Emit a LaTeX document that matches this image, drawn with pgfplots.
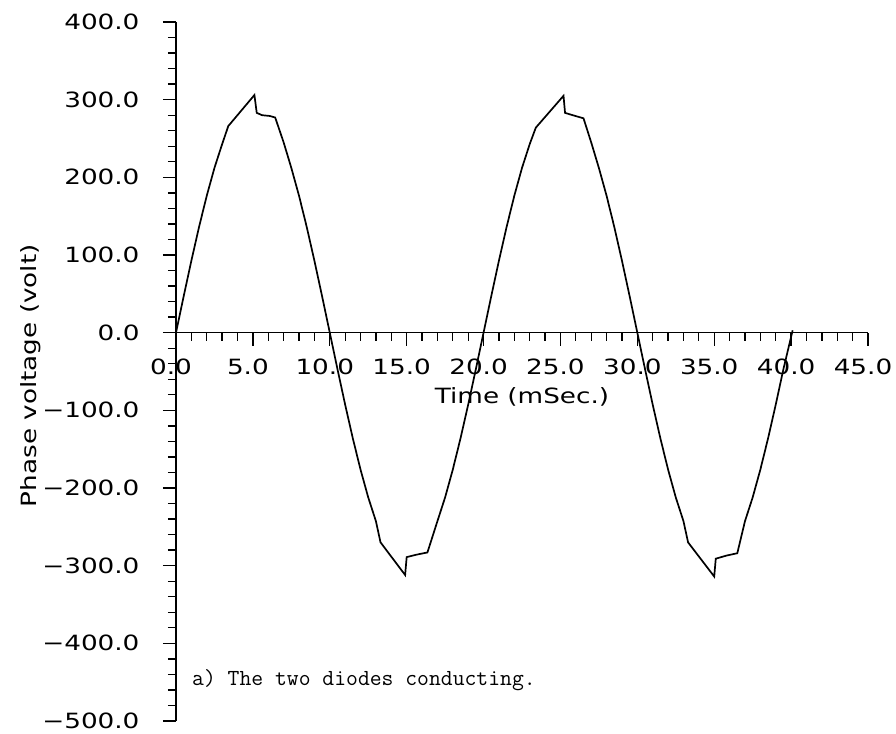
\documentclass[border=0pt]{standalone}
\usepackage{pgfplots}
\pgfplotsset{compat=1.18}
\usepackage{fontspec}
\setmainfont[FakeStretch=1.25]{DejaVu Sans}
\begin{document}
\begin{tikzpicture}[font=\fontsize{21}{25}\selectfont]
\useasboundingbox (-176pt,-12pt) rectangle (720pt,721pt);
\begin{axis}[
  scale only axis,
  width=692pt, height=699pt,
  at={(0pt,0pt)}, anchor=south west,
  xmin=0, xmax=45, ymin=-500, ymax=400,
  axis x line*=middle, axis y line*=left,
  axis line style={line width=1.6pt},
  hide obscured x ticks=false, hide obscured y ticks=false,
  tick align=outside,
  major tick length=13pt, minor tick length=8pt,
  tick style={line width=1.3pt, black},
  xtick={0,5,...,45},
  xticklabels={0.0,5.0,10.0,15.0,20.0,25.0,30.0,35.0,40.0,45.0},
  minor x tick num=4,
  ytick={-500,-400,...,400},
  yticklabels={−500.0,−400.0,−300.0,−200.0,−100.0,0.0,100.0,200.0,300.0,400.0},
  minor y tick num=4,
  xticklabel style={xshift=-5pt, yshift=-10pt},
  yticklabel style={xshift=-20pt},
  xlabel={Time (mSec.)},
  ylabel={Phase voltage (volt)},
  every axis x label/.style={at={(axis description cs:0.5,0.4635)}, anchor=center},
  every axis y label/.style={at={(axis description cs:-0.2095,0.494)}, rotate=90, anchor=center},
  clip=false,
]
\addplot[black, line width=1.7pt] coordinates {
(0,0) (0.5,46.9) (1.0,92.7) (1.5,136.2) (2.0,176.3) (2.5,212.1) (3.0,242.7)
(3.4,266) (5.1,306) (5.25,283) (5.6,280) (6.1,279) (6.45,277) (7.0,245)
(7.5,212.1) (8.0,176.3) (8.5,136.2) (9.0,92.7) (9.5,46.9) (10.0,0)
(10.5,-46.9) (11.0,-92.7) (11.5,-136.2) (12.0,-176.3) (12.5,-212.1) (13.0,-242.7)
(13.3,-270) (14.9,-312) (15.0,-289) (15.6,-286) (16.35,-283) (17.0,-242.7)
(17.5,-212.1) (18.0,-176.3) (18.5,-136.2) (19.0,-92.7) (19.5,-46.9) (20.0,0)
(20.5,46.9) (21.0,92.7) (21.5,136.2) (22.0,176.3) (22.5,212.1) (23.0,242.7)
(23.4,264) (25.2,305) (25.3,283) (25.8,280) (26.5,276) (27.0,245)
(27.5,212.1) (28.0,176.3) (28.5,136.2) (29.0,92.7) (29.5,46.9) (30.0,0)
(30.5,-46.9) (31.0,-92.7) (31.5,-136.2) (32.0,-176.3) (32.5,-212.1) (33.0,-242.7)
(33.3,-270) (35.0,-314) (35.1,-291) (35.8,-287) (36.5,-284) (37.0,-242.7)
(37.5,-212.1) (38.0,-176.3) (38.5,-136.2) (39.0,-92.7) (39.5,-46.9) (40.1,3)
};
\node[anchor=base west, font=\ttfamily\fontsize{23}{27}\selectfont, inner sep=0pt] at (axis cs:1.04,-454) {a) The two diodes conducting.};
\end{axis}
\end{tikzpicture}
\end{document}
